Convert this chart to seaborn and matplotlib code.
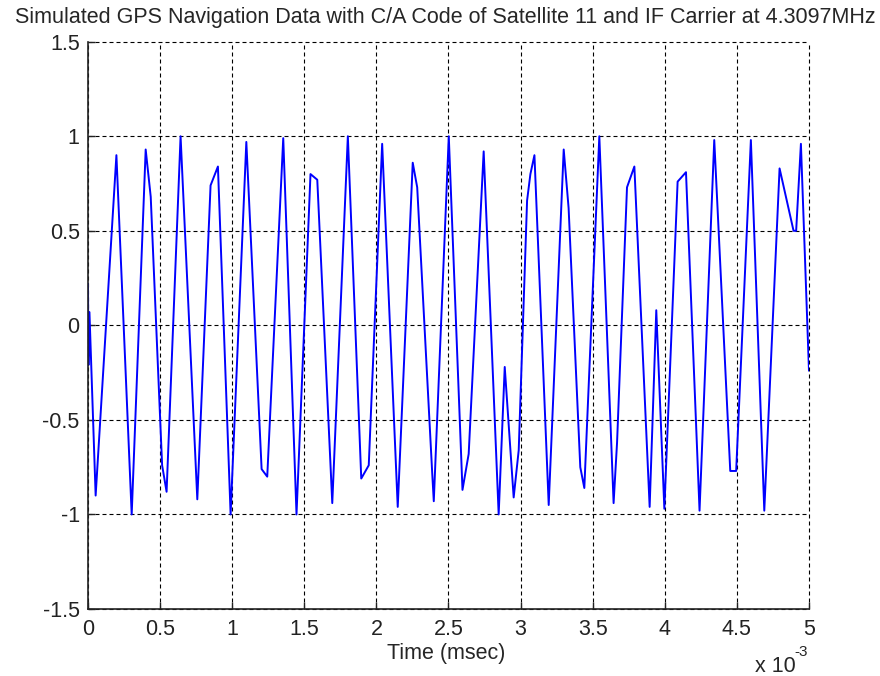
import matplotlib
matplotlib.use("Agg")
import matplotlib.pyplot as plt
import seaborn as sns
import pandas as pd

# time in units of 1e-3 msec
time_e3 = [0.000, 0.003, 0.010, 0.053, 0.197, 0.303, 0.400, 0.435, 0.514, 0.545,
           0.642, 0.758, 0.850, 0.901, 0.989, 1.098, 1.204, 1.243, 1.354, 1.446,
           1.543, 1.590, 1.694, 1.802, 1.895, 1.947, 2.040, 2.148, 2.252, 2.283,
           2.387, 2.398, 2.502, 2.597, 2.640, 2.744, 2.848, 2.890, 2.952, 2.987,
           3.045, 3.068, 3.096, 3.195, 3.299, 3.333, 3.414, 3.442, 3.546, 3.645,
           3.669, 3.738, 3.789, 3.895, 3.941, 3.997, 4.089, 4.147, 4.241, 4.343,
           4.454, 4.495, 4.597, 4.690, 4.796, 4.893, 4.911, 4.944, 5.000]
signal = [0.22, -0.21, 0.07, -0.90, 0.90, -1.00, 0.93, 0.68, -0.74, -0.88,
          1.00, -0.92, 0.74, 0.84, -1.00, 0.97, -0.76, -0.80, 0.99, -1.00,
          0.80, 0.77, -0.94, 1.00, -0.81, -0.74, 0.96, -0.96, 0.86, 0.73,
          -0.78, -0.93, 1.00, -0.87, -0.68, 0.92, -1.00, -0.22, -0.91, -0.66,
          0.66, 0.80, 0.90, -0.95, 0.93, 0.62, -0.75, -0.86, 1.00, -0.94,
          -0.62, 0.73, 0.84, -0.96, 0.08, -0.97, 0.76, 0.81, -0.98, 0.98,
          -0.77, -0.77, 0.98, -0.98, 0.83, 0.50, 0.50, 0.96, -0.24]

x_ticks = [0, 0.5, 1, 1.5, 2, 2.5, 3, 3.5, 4, 4.5, 5]
y_ticks = [-1.5, -1, -0.5, 0, 0.5, 1, 1.5]
title = "Simulated GPS Navigation Data with C/A Code of Satellite 11 and IF Carrier at 4.3097MHz"

sns.set_theme(style="white")
plt.rcParams["font.family"] = ["Liberation Sans", "DejaVu Sans"]

df = pd.DataFrame({"t": time_e3, "s": signal})

FS = 15.5
fig = plt.figure(figsize=(8.8, 6.76), dpi=100)
ax = fig.add_axes([0.1000, 0.0991, 0.8193, 0.8392])
sns.lineplot(data=df, x="t", y="s", sort=False, estimator=None, color="#0000ff",
             linewidth=1.4, ax=ax)

ax.set_xlim(0, 5)
ax.set_ylim(-1.5, 1.5)
ax.set_xticks(x_ticks)
ax.set_xticklabels([f"{v:g}" for v in x_ticks])
ax.set_yticks(y_ticks)
ax.set_yticklabels([f"{v:g}" for v in y_ticks])
ax.tick_params(direction="in", length=5, width=1.0, colors="#222222", labelsize=FS,
               top=False, right=False, bottom=True, left=True)
ax.tick_params(axis="x", pad=7)
ax.tick_params(axis="y", pad=6)
for side in ["top", "right"]:
    ax.spines[side].set_visible(False)
for side in ["left", "bottom"]:
    ax.spines[side].set_visible(True)
    ax.spines[side].set_color("#222222")
    ax.spines[side].set_linewidth(1.2)
ax.grid(True, color="black", linestyle=(0, (3.6, 2.7)), linewidth=0.8)
ax.set_axisbelow(True)
for gl in ax.get_xgridlines() + ax.get_ygridlines():
    gl.set_clip_on(False)
ax.set_xlabel("Time (msec)", fontsize=FS, va="center")
ax.xaxis.set_label_coords(0.4965, (609 - 653) / 567.3)
ax.set_ylabel("")
fig.text(0.5057, 1 - 17 / 676, title, fontsize=FS, ha="center", va="center")
fig.text(755 / 880, -0.002, "x 10", fontsize=FS, ha="left", va="bottom")
fig.text(794 / 880, 0.025, "-3", fontsize=11, ha="left", va="bottom")

fig.savefig("out.png", dpi=100, facecolor="white")
